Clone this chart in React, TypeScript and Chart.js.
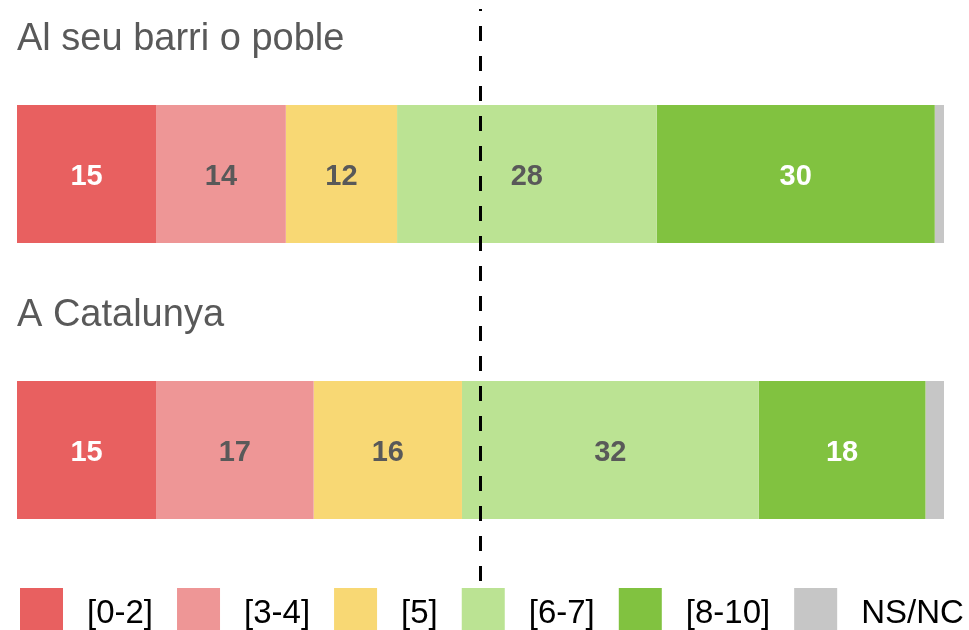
import React, { useEffect, useRef } from "react";
import { Chart, registerables } from "chart.js";

Chart.register(...registerables);

const categories = ["Al seu barri o poble", "A Catalunya"];
const seriesLabels = ["[0-2]", "[3-4]", "[5]", "[6-7]", "[8-10]", "NS/NC"];
const v0to2 = [15, 15];
const v3to4 = [14, 17];
const v5 = [12, 16];
const v6to7 = [28, 32];
const v8to10 = [30, 18];
const vNSNC = [1, 2];
const seriesValues = [v0to2, v3to4, v5, v6to7, v8to10, vNSNC];
const showValue = [true, true, true, true, true, false];
const seriesColors = ["#E86060", "#EE9696", "#F8D874", "#BBE393", "#81C240", "#C6C6C6"];
const valueColors = ["#FFFFFF", "#595959", "#595959", "#595959", "#FFFFFF", "#595959"];
const referenceValue = 50;

const FONT = '"Liberation Sans", Arial, sans-serif';

const overlayPlugin = {
  id: "overlay",
  afterDatasetsDraw(chart: any) {
    const ctx = chart.ctx as CanvasRenderingContext2D;
    const area = chart.chartArea;
    ctx.save();
    // value labels
    chart.data.datasets.forEach((ds: any, i: number) => {
      if (!showValue[i]) return;
      const meta = chart.getDatasetMeta(i);
      meta.data.forEach((bar: any, j: number) => {
        const p = bar.getProps(["x", "base", "y"], true);
        const cx = (p.x + p.base) / 2;
        ctx.font = `bold 29px ${FONT}`;
        ctx.fillStyle = valueColors[i];
        ctx.textAlign = "center";
        ctx.textBaseline = "alphabetic";
        ctx.fillText(String(ds.data[j]), cx, p.y + 11);
      });
    });
    // category titles above bars
    const meta0 = chart.getDatasetMeta(0);
    meta0.data.forEach((bar: any, j: number) => {
      const p = bar.getProps(["y", "height"], true);
      const top = p.y - p.height / 2;
      ctx.font = `38px ${FONT}`;
      ctx.fillStyle = "#595959";
      ctx.textAlign = "left";
      ctx.textBaseline = "alphabetic";
      ctx.fillText(categories[j], area.left, top - 55);
    });
    // dashed reference line
    const x = chart.scales.x.getPixelForValue(referenceValue);
    ctx.strokeStyle = "#000000";
    ctx.lineWidth = 3;
    ctx.setLineDash([15, 15]);
    ctx.lineDashOffset = 13;
    ctx.beginPath();
    ctx.moveTo(x, area.top - 27);
    ctx.lineTo(x, area.bottom - 2);
    ctx.stroke();
    ctx.setLineDash([]);
    // legend
    let lx = area.left + 3;
    const boxTop = area.bottom;
    ctx.font = `33px ${FONT}`;
    ctx.textAlign = "left";
    ctx.textBaseline = "alphabetic";
    seriesLabels.forEach((lab, i) => {
      ctx.fillStyle = seriesColors[i];
      ctx.fillRect(lx, boxTop, 43, 42);
      lx += 43 + 24;
      ctx.fillStyle = "#000000";
      ctx.fillText(lab, lx, boxTop + 35);
      lx += ctx.measureText(lab).width + 24;
    });
    ctx.restore();
  },
};

export default function App() {
  const canvasRef = useRef<HTMLCanvasElement | null>(null);

  useEffect(() => {
    if (!canvasRef.current) return;
    const chart = new Chart(canvasRef.current, {
      type: "bar",
      data: {
        labels: categories,
        datasets: seriesLabels.map((lab, i) => ({
          label: lab,
          data: seriesValues[i],
          backgroundColor: seriesColors[i],
          borderWidth: 0,
          categoryPercentage: 1,
          barPercentage: 0.5,
        })),
      },
      options: {
        indexAxis: "y",
        animation: false,
        responsive: false,
        maintainAspectRatio: false,
        layout: { padding: { left: 17, right: 25, top: 36, bottom: 42 } },
        scales: {
          x: { stacked: true, min: 0, max: 100, display: false },
          y: { stacked: true, display: false },
        },
        plugins: {
          legend: { display: false },
          tooltip: { enabled: false },
          title: { display: false },
        },
      },
      plugins: [overlayPlugin],
    });
    return () => chart.destroy();
  }, []);

  return (
    <div style={{ position: "absolute", left: 0, top: 0, width: 969, height: 630, background: "#ffffff" }}>
      <canvas ref={canvasRef} width={969} height={630} style={{ display: "block", width: 969, height: 630 }} />
    </div>
  );
}
